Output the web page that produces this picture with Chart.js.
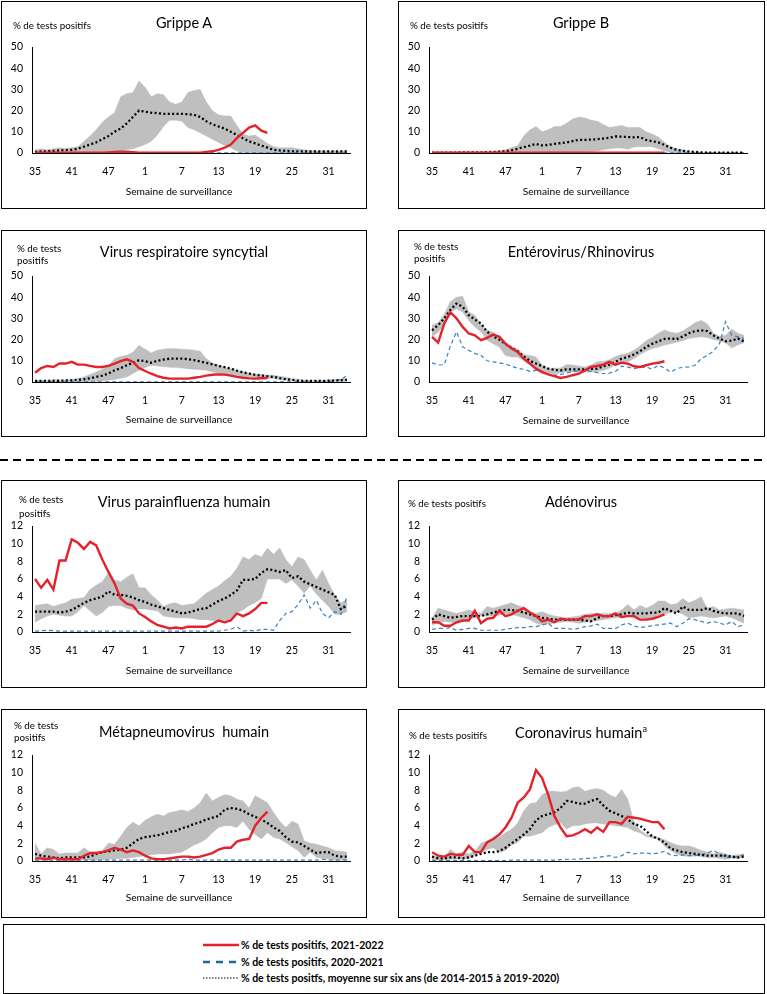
<!DOCTYPE html>
<html lang="fr">
<head>
<meta charset="utf-8">
<script src="https://cdn.jsdelivr.net/npm/chart.js@4.4.1/dist/chart.umd.min.js"></script>
<style>
  body { margin: 0; background: #fff; font-family: Lato, "Open Sans", sans-serif; color: #000; }
  #page { position: relative; width: 767px; height: 994px; overflow: hidden; }
  .panel { position: absolute; border: 1px solid #000; box-sizing: border-box; background: #fff; }
  .panel canvas { position: absolute; left: 0; top: 0; }
  .ttl { position: absolute; font-size: 14.5px; white-space: nowrap; transform: translate(-50%, -50%); }
  .ttl sup { font-size: 9px; }
  .ylab { position: absolute; font-size: 9.8px; white-space: nowrap; }
  .xlab { position: absolute; font-size: 10.2px; white-space: nowrap; transform: translate(-50%, -50%); }
  #legend { position: absolute; left: 3px; top: 924px; width: 762px; height: 70px; border: 1px solid #000; box-sizing: border-box; }
  .lrow { position: absolute; left: 237px; font-size: 10.5px; font-weight: 700; white-space: nowrap; transform: translateY(-50%); }
  #sep { position: absolute; left: 0; top: 455px; }
</style>
</head>
<body>
<div id="page"></div>
<script>
  // semaines de surveillance (35 a 52, puis 1 a 34)
  const weeks = ["35","36","37","38","39","40","41","42","43","44","45","46","47","48","49","50","51","52",
    "1","2","3","4","5","6","7","8","9","10","11","12","13","14","15","16","17","18","19","20",
    "21","22","23","24","25","26","27","28","29","30","31","32","33","34"];

  // Grippe A
  const grippeA_2122 = [0.1,0.1,0.1,0.1,0.1,0.1,0.1,0.1,0.1,0.1,0.1,0.1,0.3,0.5,0.6,0.6,0.4,0.2,0.1,0.1,
    0.1,0.1,0.1,0.1,0.1,0.1,0.1,0.2,0.5,0.8,1.5,2.5,4,7,9.5,12,13,10.5,9.5];
  const grippeA_2021 = [0.1,0.1,0.1,0.1,0.1,0.1,0.1,0.1,0.1,0.1,0.1,0.1,0.1,0.1,0.1,0.1,0.1,0.1,0.1,0.1,
    0.1,0.1,0.1,0.1,0.1,0.1,0.1,0.1,0.1,0.1,0.1,0.1,0.1,0.1,0.1,0.1,0.1,0.1,0.1,0.1,
    0.1,0.1,0.1,0.1,0.1,0.1,0.1,0.1,0.1,0.1,0.1,0.1];
  const grippeA_moy = [0.5,0.7,0.8,1,1.2,1.4,1.5,2,3,4,5,6.5,8,10,11.5,14,17,20,19.5,19,
    18.8,18.5,18.5,18.5,18.5,18.3,18,17,15,13.5,12.5,11.5,10,8.5,7,5.5,4.5,3.5,2.5,1.5,
    1.2,1,0.8,0.8,0.7,0.7,0.7,0.7,0.7,0.7,0.7,0.7];
  const grippeA_min = [0,0,0,0,0,0,0,0,0,0,0,0,0.5,0.8,1,1.5,2,3,4,5.5,
    8.5,12.5,15.5,15.5,15,12,11,9.5,8,6.5,5,3.5,2.5,1,0.3,0.2,0,0,0,0,
    0,0,0,0,0,0,0,0,0,0,0,0];
  const grippeA_max = [1.5,2,1.5,2,2.5,2,2.5,3,5.5,8,11,14.5,17,19,26.5,28,28.5,34,31,26.5,
    28,27.5,24,23,24,28.5,29.5,30,24,20,18,17.5,17.5,13,9,8,8.5,6.5,4.5,3,
    2.5,2.5,2.5,2,1.5,1.2,1,1,1,1,1,1];

  // Grippe B
  const grippeB_2122 = [0.1,0.1,0.1,0.1,0.1,0.1,0.1,0.1,0.1,0.1,0.1,0.1,0.1,0.1,0.1,0.1,0.1,0.1,0.1,0.1,
    0.1,0.1,0.1,0.1,0.1,0.1,0.1,0.1,0.1,0.1,0.1,0.1,0.1,0.1,0.1,0.1,0.1,0.1,0.1];
  const grippeB_2021 = [0.1,0.1,0.1,0.1,0.1,0.1,0.1,0.1,0.1,0.1,0.1,0.1,0.1,0.1,0.1,0.1,0.1,0.1,0.1,0.1,
    0.1,0.1,0.1,0.1,0.1,0.1,0.1,0.1,0.1,0.1,0.1,0.1,0.1,0.1,0.1,0.1,0.1,0.1,0.1,0.1,
    0.1,0.1,0.1,0.1,0.1,0.1,0.1,0.1,0.1,0.1,0.1,0.1];
  const grippeB_moy = [0.2,0.2,0.2,0.2,0.2,0.3,0.3,0.3,0.3,0.4,0.5,0.6,0.8,1.3,2,2.8,3.5,4.3,3.6,3.8,
    4.3,4.6,5,5.6,6.2,6.2,6.3,6.5,6.8,7.2,7.8,7.7,7.5,7.4,7.5,6.2,5.5,5,3.8,2.5,
    1.5,1,0.7,0.5,0.3,0.2,0.2,0.2,0.2,0.2,0.2,0.2];
  const grippeB_min = [0,0,0,0,0,0,0,0,0,0,0,0,0,0,0,0,0,0,0,0,
    0,0,0,0,0.3,0.5,0.7,1,1.5,2,2.3,2.3,1.8,2.8,3,3,3,2,1,0.3,
    0,0,0,0,0,0,0,0,0,0,0,0];
  const grippeB_max = [0.3,0.3,0.3,0.3,0.3,0.3,0.3,0.3,0.3,0.3,0.5,1,1.5,2.5,3.5,8,11,12.5,10,11,
    12.5,12.5,14,16,17,16.5,15.5,15,13.5,12,12.5,13,12,12,12,10,9,7.5,5,3,
    2,1.5,0.8,0.5,0.2,0.2,0.2,0.2,0.2,0.2,0.2,0.2];

  // Virus respiratoire syncytial
  const vrs_2122 = [4.4,6.6,7.6,7.1,8.7,8.7,9.5,8.2,8.2,7.6,7.1,7.1,7.6,8.7,9.8,10.7,9.5,6.6,5.2,3.9,
    2.8,2,1.6,1.6,1.6,1.6,2,2.4,3,3.4,3.6,3.5,3,2.4,2,1.7,1.6,1.8,1.9];
  const vrs_2021 = [0.1,0.1,0.1,0.1,0.1,0.1,0.1,0.1,0.1,0.1,0.1,0.1,0.1,0.1,0.1,0.1,0.1,0.1,0.1,0.1,
    0.1,0.1,0.1,0.1,0.1,0.1,0.1,0.1,0.1,0.1,0.1,0.1,0.1,0.1,0.1,0.1,0.1,0.1,0.1,0.1,
    0.1,0.1,0.1,0.1,0.1,0.1,0.1,0.1,0.2,0.5,1.2,3];
  const vrs_moy = [0.5,0.5,0.5,0.6,0.6,0.7,0.8,1,1.3,1.8,2.4,3,4,5.5,6.5,7.9,9,10.3,9.8,9.1,
    10,10.6,11,11,11,10.8,10.3,9.7,9,8.3,7.6,7,6.3,5.4,4.6,4,3.4,3,2.7,2.4,
    1.8,1.3,1,0.6,0.5,0.5,0.5,0.5,0.6,0.7,0.8,1];
  const vrs_min = [0.2,0.2,0.2,0.2,0.2,0.2,0.2,0.2,0.2,0.2,0.3,0.5,0.8,1.2,1.8,2.4,4,5.5,6.8,7.9,
    7.5,7.2,7,6.8,6.6,6.3,6,5.8,5.5,4.8,4,3.6,3.2,2.8,2.5,2.2,2,1.9,1.7,1.6,
    1.2,0.8,0.6,0.3,0.3,0.3,0.3,0.3,0.3,0.3,0.3,0.3];
  const vrs_max = [0.8,0.8,0.8,0.9,1,1,1.2,1.6,2.4,3.5,4.7,6,7.5,11,12,12.6,14,17.3,15.5,13.7,
    15,15.5,15.8,15.7,15.5,15.3,15,14.5,11,9,7.9,7,6.3,5.5,4.7,4.2,3.7,3.5,3.3,3.2,
    2.7,2.2,1.5,1.2,0.9,0.8,0.8,0.8,1,1.2,1.4,1.6];

  // Enterovirus/Rhinovirus
  const entero_2122 = [21.3,18.6,27.6,32.8,30,26,22.9,22,19.7,20.8,22.4,21.3,18.1,15.8,14.2,11,8.7,6.3,4.7,3.6,
    2.8,1.9,2.4,3.2,3.9,5.5,7.1,7.6,8.2,9.5,8.2,9.1,8.7,7.4,7.1,7.9,8.7,9.1,9.8];
  const entero_2021 = [9,8,8.2,17,23.7,16.6,15,13.5,12.6,10,9.5,9,8.5,7.5,6.5,6,5,5.5,5,3.5,
    3.2,3.5,4.2,5,5.2,5.5,5,4.4,4,4.2,5,7.5,7,6.3,6.8,7.1,6,7.9,6.6,4.7,
    6.3,7,7.1,7.9,11,12.5,14.5,18.1,28.4,22,21.3,20.5];
  const entero_moy = [24.4,26.8,30,34,37,35.5,31.5,29.5,27.6,23.7,21.5,20,18,16,14.5,12,10,8.7,7.5,6.3,
    5.7,5.5,6,6,6,6,6.2,6.3,7.5,8.2,9.5,11,11.8,13,14.5,16.5,18,19.2,20.3,20.5,
    20.2,21.5,23,24,24.4,24,22,20.5,19.2,19.5,20.5,19.2];
  const entero_min = [21.3,23.5,27,33,34.5,33,29,26,23.7,19.7,18,16.5,12.5,11.8,11.8,10,8,6.3,5,4.2,
    3.9,4.3,4.7,4.7,4.7,4.7,4.7,5,5.5,6.5,8,9,9.5,11,13,14.5,15.8,16.5,17.4,18,
    18.8,19.5,20.5,21,21.3,21,20,19.5,18.5,16,17.5,18.5];
  const entero_max = [26.8,28,32,38,40,40.5,33,31.5,27,24.5,23.5,21,18,17,15.5,13,12.5,11.8,8,6.5,
    6.5,6.6,8.2,8,7.5,7.1,8,9.5,9.7,10.5,12,13,13.5,15,17,19.5,21,23,24.5,23.5,
    23,24,26,28,29,27.5,23,21.5,22,25,23,22];

  // Virus parainfluenza humain
  const para_2122 = [6,5,5.9,4.8,8.1,8.1,10.5,10.1,9.4,10.2,9.8,8.2,6.8,5.5,3.8,3.2,3,2.1,1.7,1.2,
    0.8,0.6,0.4,0.5,0.4,0.6,0.6,0.6,0.6,0.9,1.3,1.1,1.3,2.1,1.8,2.1,2.6,3.3,3.3];
  const para_2021 = [0.1,0.15,0.2,0.15,0.1,0.1,0.1,0.1,0.1,0.1,0.1,0.1,0.1,0.1,0.1,0.1,0.1,0.1,0.1,0.1,
    0.1,0.1,0.1,0.1,0.1,0.1,0.1,0.1,0.1,0.1,0.1,0.2,0.3,0.6,0.1,0.2,0.1,0.3,0.3,0.2,
    1.3,2.1,2.3,3.1,4.2,2.7,3.6,2.1,1.6,2.3,2,4];
  const para_moy = [2.3,2.3,2.3,2.3,2.2,2.3,2.5,2.9,3.3,3.6,3.8,4,4.6,4.2,4.2,4.1,3.9,3.6,3.4,3.1,
    2.9,2.7,2.5,2.3,2.1,2.2,2.4,2.6,2.7,3.1,3.5,3.8,4.2,4.7,5.9,5.9,6,6.7,7.1,7,
    6.8,7,6.1,6.3,5.7,5.4,5.1,4.8,4.5,4.2,2.6,3];
  const para_min = [1.1,1.5,1.8,2,1.9,1.8,1.8,2.3,3,2.4,1.8,2.2,2.9,3,3,2.7,2.5,2.6,2.6,2.5,
    2.4,1.8,1.7,1.6,1.6,1.6,1.5,1.4,1.4,1.3,1.2,1.3,1.4,2.2,2.5,3,3.3,3.8,6,6,
    6,5.5,5.9,5.2,4.4,5.2,4.3,3.6,2.9,2,2,2.3];
  const para_max = [3,3.1,3.2,2.9,3.1,3.3,3.7,3.8,3.9,4.8,5.3,5.7,6.7,5.9,5.7,6.2,6.6,5,5,4.2,
    3.6,2.9,3.2,3.3,3,3.1,3.2,3.8,4.4,4.8,5.2,5.8,6.3,7.2,8.5,8.2,8.8,8.5,9.5,8.8,
    9.5,8.2,7.4,8.5,8.2,7,5.9,7,5.5,4.2,3.3,3.6];

  // Adenovirus
  const adeno_2122 = [1.1,1.1,0.7,0.7,1.1,1.3,1.3,2.4,1,1.5,1.6,2.4,1.8,2,2.4,2.7,2.2,1.8,1.2,1.4,
    1.1,1.5,1.4,1.4,1.4,1.8,1.8,2,1.8,1.8,2.1,1.7,1.8,1.8,1.4,1.4,1.5,1.7,2];
  const adeno_2021 = [0.3,0.4,0.4,0.5,0.2,0.3,0.4,0.4,0.2,0.2,0.2,0.2,0.3,0.4,0.5,0.5,0.6,0.6,0.8,1,
    0.4,0.4,0.4,0.3,0.4,0.6,0.7,0.9,0.4,0.4,0.4,0.8,1,0.7,0.5,0.6,0.7,0.8,0.9,1,
    0.6,1,1.5,1.4,1.2,1,1.2,1,0.8,1.2,0.6,0.8];
  const adeno_moy = [1.4,2,1.8,1.6,1.7,1.8,1.8,1.8,1.8,2,2.2,2.4,2.5,2.5,2.4,2.2,2,1.8,1.6,1.5,
    1.4,1.4,1.4,1.4,1.4,1.3,1.2,1.6,1.8,1.8,1.9,2,2.2,2.1,2.1,2.1,2.2,2.2,2.7,2.4,
    2.1,2.9,2.5,2.5,2.5,2.7,2.4,2.2,2.1,2.1,2.1,1.8];
  const adeno_min = [0.8,1,1.2,1.1,1,1.2,1.4,1.6,1.8,1.8,1.8,1.9,2.1,2,1.8,1.6,1.4,1,0.8,0.9,
    1,1.1,1.2,1.1,1,1.1,1.2,1.3,1.4,1.5,1.6,1.7,1.8,1.7,1.6,1.5,1.4,1.7,2,2.2,
    2.3,2,1.6,1.7,1.8,1.7,1.6,1.7,1.8,1.6,1.3,1];
  const adeno_max = [1.6,2.7,2.5,2.3,2.1,2.3,2.5,2.3,2.1,2.9,2.7,2.9,3.1,3.3,3,2.8,2.3,2.1,2.3,2,
    1.8,1.7,1.6,1.7,1.8,2,2.1,2.1,2.1,2.1,2.1,2.5,3.1,2.5,3,2.7,3,3.5,3.5,3.1,
    3.2,3.8,3.3,3.6,4,2.7,2.9,2.5,2.6,2.7,2.6,2.5];

  // Metapneumovirus humain
  const metap_2122 = [0.3,0.3,0.2,0.4,0.2,0.2,0.2,0.2,0.6,0.9,0.9,1,1.2,1.5,1.3,1,1.2,1,0.6,0.3,
    0.2,0.2,0.3,0.4,0.5,0.5,0.4,0.5,0.7,0.9,1.3,1.5,1.5,2.2,2.4,2.5,4,4.9,5.6];
  const metap_2021 = [0.1,0.1,0.1,0.1,0.1,0.1,0.1,0.1,0.1,0.1,0.1,0.1,0.1,0.1,0.1,0.1,0.1,0.1,0.1,0.1,
    0.1,0.1,0.1,0.1,0.1,0.2,0.1,0.1,0.1,0.1,0.1,0.1,0.1,0.1,0.1,0.1,0.1,0.1,0.1,0.1,
    0.1,0.1,0.1,0.1,0.1,0.1,0.1,0.2,0.1,0.1,0.1,0.1];
  const metap_moy = [0.8,0.6,0.5,0.4,0.3,0.4,0.4,0.4,0.4,0.5,0.8,1,1.1,1.2,1.3,1.5,2,2.5,2.7,2.8,
    2.9,3.1,3.3,3.4,3.7,3.9,4.2,4.4,4.7,4.9,5.1,5.8,6,5.9,5.7,5.3,5,4.7,4.3,3.8,
    3.4,2.7,2.2,2.1,1.7,1.3,0.9,1,1,0.6,0.5,0.5];
  const metap_min = [0.1,0.1,0.1,0.1,0.1,0.1,0.1,0.1,0.1,0.1,0.1,0.1,0.2,0.2,0.3,0.3,0.4,0.5,0.6,0.7,
    0.8,0.8,0.8,0.9,1,1.4,1.8,2.1,2.5,3.2,3.8,4,4,3.8,4.5,3.6,3,2.5,3.2,2.7,
    2.5,2.1,1.6,1.2,0.4,1,0.4,0.3,0.2,0.1,0.1,0.1];
  const metap_max = [2,0.8,1.5,1.3,0.8,0.9,0.9,0.9,1.5,1,1,1.2,2,1.9,2.8,3.8,4.4,4,4.6,5,
    5.3,5.1,5.5,5.6,5.8,5.6,6,6.6,7.7,6.8,7.2,7.5,7.4,7,6.8,6,7.4,7,6.6,5.5,
    4.5,3.8,4.5,4.2,2.3,2,1.9,1.7,1.5,1.2,1.1,1];

  // Coronavirus humain
  const corona_2122 = [1,0.6,0.5,0.8,0.7,0.7,1.7,1,1,2.1,2.5,3,3.8,4.9,6.6,7.2,8.1,10.3,9.4,7.5,
    5.1,3.8,2.8,2.9,3.2,3.6,3.2,3.8,3.3,4.4,4.4,4.2,5,4.9,4.8,4.6,4.4,4.4,3.6];
  const corona_2021 = [0.05,0.05,0.05,0.05,0.05,0.05,0.05,0.05,0.05,0.05,0.05,0.05,0.05,0.1,0.1,0.1,0.1,0.1,0.1,0.1,
    0.1,0.15,0.2,0.2,0.2,0.3,0.3,0.4,0.5,0.6,0.4,0.6,1,0.8,0.9,0.9,0.8,0.9,1.1,0.7,
    0.6,0.7,0.6,0.6,0.7,0.9,1.2,0.8,0.4,0.4,0.5,0.7];
  const corona_moy = [0.5,0.3,0.3,0.4,0.4,0.3,0.4,0.6,0.8,1,1,1.1,1.5,2,2.5,3,3.6,4.6,5.1,5.3,
    5.5,6,6.8,6.7,6.5,6.5,6.8,7,6.3,5.7,5.4,5.1,4.7,4.2,4,3.4,2.8,2.5,2.1,1.4,
    1.2,1,0.9,0.8,0.7,0.6,0.6,0.6,0.6,0.5,0.4,0.5];
  const corona_min = [0.1,0.1,0.1,0.2,0.2,0.2,0.3,0.6,1,1.3,1.5,1,1.2,1.8,2.1,2.8,2.8,3,3.2,3.8,
    4.1,4.3,3.6,4,4,4.2,4.3,4.3,4.2,4.1,4,3.9,3.8,3.4,3.2,2.8,2.6,2.5,1.7,1.2,
    0.8,0.6,0.5,0.6,0.5,0.4,0.4,0.3,0.2,0.3,0.3,0.4];
  const corona_max = [0.6,0.5,0.4,1.3,0.8,1,0.8,1.1,2,2.3,2.5,2.7,3.2,3.6,4.3,5.7,6.5,6.6,7.5,7.9,
    7.9,7.8,7.9,8.3,8.4,7.9,8.1,8.2,8,7.5,7.2,8.1,7,4.5,3.5,3,2.8,2.7,2.4,2.1,
    1.8,1.7,1.7,1.5,1.2,1,0.8,1,0.8,0.6,0.7,0.8];

  const RED = "#e4222b";
  const BLUE = "#3a82bd";
  const GREY = "#bfbfbf";

  const panels = [
    { left: 1, top: 1, w: 366, h: 208, title: "Grippe A", ylab: ["% de tests positifs"], ylabX: 11, ylabY: 17, ylabLH: 12,
      ttlY: 20, xlabY: 189, yMax: 50, step: 10, red: grippeA_2122, blue: grippeA_2021, avg: grippeA_moy, lo: grippeA_min, hi: grippeA_max },
    { left: 398, top: 1, w: 367, h: 208, title: "Grippe B", ylab: ["% de tests positifs"], ylabX: 11, ylabY: 17, ylabLH: 12,
      ttlY: 20, xlabY: 189, yMax: 50, step: 10, red: grippeB_2122, blue: grippeB_2021, avg: grippeB_moy, lo: grippeB_min, hi: grippeB_max },
    { left: 1, top: 230, w: 366, h: 207, title: "Virus respiratoire syncytial", ylab: ["% de tests", "positifs"], ylabX: 15, ylabY: 11, ylabLH: 12,
      ttlY: 20, xlabY: 188, yMax: 50, step: 10, red: vrs_2122, blue: vrs_2021, avg: vrs_moy, lo: vrs_min, hi: vrs_max },
    { left: 398, top: 230, w: 367, h: 207, title: "Entérovirus/Rhinovirus", ylab: ["% de tests", "positifs"], ylabX: 15, ylabY: 9, ylabLH: 12,
      ttlY: 20, xlabY: 189, yMax: 50, step: 10, red: entero_2122, blue: entero_2021, avg: entero_moy, lo: entero_min, hi: entero_max },
    { left: 1, top: 480, w: 366, h: 208, title: "Virus parainfluenza humain", ylab: ["% de tests", "positifs"], ylabX: 17, ylabY: 12, ylabLH: 13.5,
      ttlY: 20, xlabY: 189, yMax: 12, step: 2, red: para_2122, blue: para_2021, avg: para_moy, lo: para_min, hi: para_max },
    { left: 398, top: 480, w: 367, h: 208, title: "Adénovirus", ylab: ["% de tests positifs"], ylabX: 9, ylabY: 16, ylabLH: 12,
      ttlY: 20, xlabY: 189, yMax: 12, step: 2, red: adeno_2122, blue: adeno_2021, avg: adeno_moy, lo: adeno_min, hi: adeno_max },
    { left: 1, top: 709, w: 366, h: 209, title: "Métapneumovirus&nbsp; humain", ylab: ["% de tests", "positifs"], ylabX: 12, ylabY: 9, ylabLH: 12,
      ttlY: 21, xlabY: 187, yMax: 12, step: 2, red: metap_2122, blue: metap_2021, avg: metap_moy, lo: metap_min, hi: metap_max },
    { left: 398, top: 709, w: 367, h: 209, title: "Coronavirus humain<sup>a</sup>", ylab: ["% de tests positifs"], ylabX: 10, ylabY: 19, ylabLH: 12,
      ttlY: 22, xlabY: 187, yMax: 12, step: 2, red: corona_2122, blue: corona_2021, avg: corona_moy, lo: corona_min, hi: corona_max }
  ];

  Chart.defaults.font.family = 'Lato, "Open Sans", sans-serif';
  Chart.defaults.color = "#000";

  const page = document.getElementById("page");

  // Build each panel (box, texts, canvas)
  panels.forEach((p) => {
    const box = document.createElement("div");
    box.className = "panel";
    box.style.left = p.left + "px";
    box.style.top = p.top + "px";
    box.style.width = p.w + "px";
    box.style.height = p.h + "px";

    const innerW = p.w - 2, innerH = p.h - 2;
    const cv = document.createElement("canvas");
    cv.width = innerW;
    cv.height = innerH;
    cv.style.width = innerW + "px";
    cv.style.height = innerH + "px";
    box.appendChild(cv);

    const ttl = document.createElement("div");
    ttl.className = "ttl";
    ttl.innerHTML = p.title;
    ttl.style.left = "182px";
    ttl.style.top = p.ttlY + "px";
    box.appendChild(ttl);

    const yl = document.createElement("div");
    yl.className = "ylab";
    yl.style.left = p.ylabX + "px";
    yl.style.top = p.ylabY + "px";
    yl.style.lineHeight = p.ylabLH + "px";
    yl.innerHTML = p.ylab.join("<br>");
    box.appendChild(yl);

    const xl = document.createElement("div");
    xl.className = "xlab";
    xl.textContent = "Semaine de surveillance";
    xl.style.left = "177px";
    xl.style.top = p.xlabY + "px";
    box.appendChild(xl);

    page.appendChild(box);

    new Chart(cv, {
      type: "line",
      data: {
        labels: weeks,
        datasets: [
          { label: "2021-2022", data: p.red, borderColor: RED, borderWidth: 2.4, pointRadius: 0, tension: 0, fill: false },
          { label: "moyenne", data: p.avg, borderColor: "#000", borderWidth: 2.3, borderDash: [2, 2.4], pointRadius: 0, tension: 0, fill: false },
          { label: "2020-2021", data: p.blue, borderColor: BLUE, borderWidth: 1.2, borderDash: [4, 3], pointRadius: 0, tension: 0, fill: false },
          { label: "min", data: p.lo, borderColor: GREY, borderWidth: 0.5, pointRadius: 0, tension: 0, fill: false },
          { label: "max", data: p.hi, borderColor: GREY, borderWidth: 0.5, pointRadius: 0, tension: 0, fill: "-1", backgroundColor: GREY }
        ]
      },
      options: {
        responsive: false,
        animation: false,
        events: [],
        layout: { padding: { top: 45, right: innerW - 348, left: 0, bottom: 0 } },
        plugins: { legend: { display: false }, tooltip: { enabled: false } },
        scales: {
          x: {
            type: "category",
            offset: true,
            grid: { display: false, drawTicks: false },
            border: { color: "#000", width: 1 },
            ticks: {
              autoSkip: false,
              maxRotation: 0,
              padding: 12,
              font: { size: 10.5 },
              callback: function (v, i) { return i % 6 === 0 ? weeks[i] : ""; }
            },
            afterFit: (s) => { s.height = innerH - 151; }
          },
          y: {
            min: 0,
            max: p.yMax,
            grid: { display: false, drawTicks: false },
            border: { color: "#000", width: 1 },
            ticks: { stepSize: p.step, padding: 9, font: { size: 10.5 } },
            afterFit: (s) => { s.width = 30; }
          }
        }
      }
    });
  });

  // dashed separator between the two groups
  const sep = document.createElementNS("http://www.w3.org/2000/svg", "svg");
  sep.setAttribute("id", "sep");
  sep.setAttribute("width", "767");
  sep.setAttribute("height", "10");
  sep.innerHTML = '<line x1="0" y1="5" x2="767" y2="5" stroke="#000" stroke-width="2" stroke-dasharray="8 5"/>';
  page.appendChild(sep);

  // legend box
  const leg = document.createElement("div");
  leg.id = "legend";
  leg.innerHTML =
    '<svg width="760" height="68" style="position:absolute;left:0;top:0">' +
    '<line x1="199" y1="20" x2="235" y2="20" stroke="' + RED + '" stroke-width="2.5"/>' +
    '<line x1="199" y1="37" x2="235" y2="37" stroke="#1f6a9a" stroke-width="2.5" stroke-dasharray="7 6"/>' +
    '<line x1="199" y1="53" x2="235" y2="53" stroke="#000" stroke-width="1.2" stroke-dasharray="1.5 1.5"/>' +
    '</svg>' +
    '<div class="lrow" style="top:20px">% de tests positifs, 2021-2022</div>' +
    '<div class="lrow" style="top:37px">% de tests positifs, 2020-2021</div>' +
    '<div class="lrow" style="top:53px">% de tests positfs, moyenne sur six ans (de 2014-2015 à 2019-2020)</div>';
  page.appendChild(leg);
</script>
</body>
</html>
